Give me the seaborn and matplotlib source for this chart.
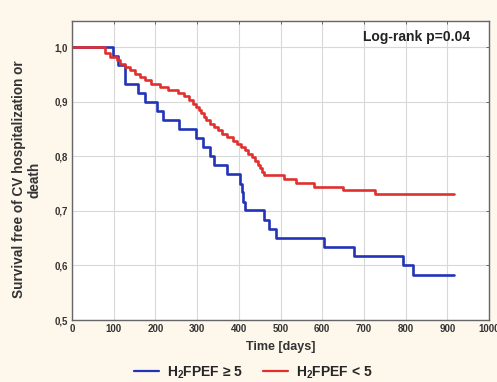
import matplotlib
matplotlib.use("Agg")
import matplotlib.pyplot as plt
import seaborn as sns
import pandas as pd
from matplotlib.lines import Line2D

# Kaplan-Meier step data (time in days, survival after step)
blue_t = [0, 99, 111, 127, 159, 175, 203, 217, 257, 298, 314, 330, 340, 372,
          403, 407, 411, 415, 460, 473, 490, 604, 677, 793, 818, 915]
blue_s = [1.0, 0.984, 0.968, 0.933, 0.916, 0.900, 0.884, 0.867, 0.850, 0.834,
          0.817, 0.801, 0.784, 0.767, 0.750, 0.734, 0.717, 0.701, 0.684, 0.667,
          0.650, 0.633, 0.617, 0.600, 0.583, 0.583]

red_t = [0, 79, 90, 108, 115, 127, 140, 150, 163, 175, 190, 210, 230, 255, 268,
         280, 290, 298, 305, 310, 316, 322, 330, 340, 350, 360, 372, 385, 395,
         405, 415, 422, 432, 440, 445, 450, 455, 460, 508, 536, 580, 649, 726, 915]
red_s = [1.0, 0.990, 0.982, 0.976, 0.970, 0.964, 0.958, 0.952, 0.946, 0.940,
         0.933, 0.927, 0.922, 0.916, 0.910, 0.903, 0.897, 0.891, 0.885, 0.879,
         0.872, 0.866, 0.860, 0.854, 0.848, 0.842, 0.836, 0.829, 0.823, 0.817,
         0.811, 0.804, 0.798, 0.791, 0.785, 0.779, 0.772, 0.766, 0.758, 0.751,
         0.744, 0.738, 0.731, 0.731]

x_ticks = [0, 100, 200, 300, 400, 500, 600, 700, 800, 900, 1000]
y_ticks = [0.5, 0.6, 0.7, 0.8, 0.9, 1.0]
y_tick_labels = ["0,5", "0,6", "0,7", "0,8", "0,9", "1,0"]
group_labels = [r"H$_\mathbf{2}$FPEF ≥ 5", r"H$_\mathbf{2}$FPEF < 5"]
colors = ["#2233B8", "#E0302E"]

sns.set_style("white")
plt.rcParams['font.family'] = ['Liberation Sans', 'DejaVu Sans']
plt.rcParams['mathtext.fontset'] = 'custom'
plt.rcParams['mathtext.rm'] = 'Liberation Sans:bold'
plt.rcParams['mathtext.bf'] = 'Liberation Sans:bold'
plt.rcParams['mathtext.it'] = 'Liberation Sans:bold'

df = pd.concat([
    pd.DataFrame({"t": blue_t, "s": blue_s, "g": group_labels[0]}),
    pd.DataFrame({"t": red_t, "s": red_s, "g": group_labels[1]}),
])

fig = plt.figure(figsize=(4.97, 3.82), dpi=100, facecolor="#FDF7EC")
ax = fig.add_axes([0.1449, 0.1623, 0.8390, 0.7830])
ax.set_facecolor("white")

for lab, col in zip(group_labels, colors):
    sub = df[df.g == lab]
    sns.lineplot(data=sub, x="t", y="s", ax=ax, color=col, lw=1.9,
                 drawstyle="steps-post", estimator=None, sort=False, legend=False)

ax.set_xlim(0, 1000)
ax.set_ylim(0.5, 1.0485)
ax.set_xticks(x_ticks)
ax.set_xticklabels([str(v) for v in x_ticks], fontsize=7, fontweight="bold")
ax.set_yticks(y_ticks)
ax.set_yticklabels(y_tick_labels, fontsize=7, fontweight="bold")
ax.grid(True, color="#D8D8D8", lw=0.8)
ax.tick_params(direction="in", length=2, width=0.6, top=True, right=True, pad=3, colors="#555555")
for lab in ax.get_xticklabels() + ax.get_yticklabels():
    lab.set_color("#333333")
for sp in ax.spines.values():
    sp.set_color("#666666")
    sp.set_linewidth(1.0)

ax.set_xlabel("Time [days]", fontsize=9, fontweight="bold", color="#333333", labelpad=5)
ax.set_ylabel("Survival free of CV hospitalization or\ndeath", fontsize=9.8,
              fontweight="bold", color="#333333", linespacing=1.2)
ax.yaxis.set_label_coords(-0.072, 0.47)

ax.text(0.955, 0.945, "Log-rank p=0.04", transform=ax.transAxes, ha="right", va="center",
        fontsize=10, fontweight="bold", color="#222222")

handles = [Line2D([0], [0], color=c, lw=1.6) for c in colors]
fig.legend(handles, group_labels, loc="center", bbox_to_anchor=(0.51, 0.025), ncol=2,
           frameon=False, prop={"weight": "bold", "size": 10}, handlelength=1.8,
           columnspacing=1.4, handletextpad=0.6)

fig.savefig("out.png", dpi=100, facecolor=fig.get_facecolor())
